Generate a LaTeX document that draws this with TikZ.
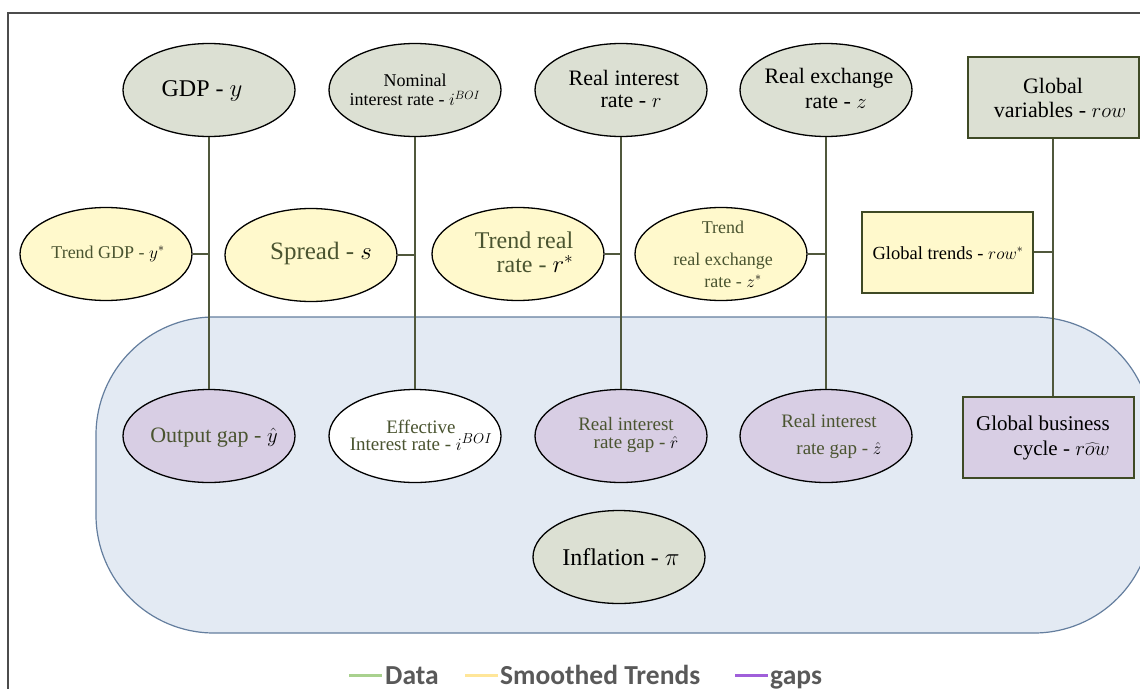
\documentclass[tikz,border=0pt]{standalone}
\usepackage{fontspec}
\setmainfont{Liberation Serif}
\newfontfamily\legfont{Carlito}
\usetikzlibrary{shapes.geometric}
\definecolor{datafill}{RGB}{220,224,211}
\definecolor{trendfill}{RGB}{255,249,204}
\definecolor{gapfill}{RGB}{216,206,228}
\definecolor{regionfill}{RGB}{227,234,243}
\definecolor{regiondraw}{RGB}{100,126,158}
\definecolor{olive}{RGB}{74,84,48}
\definecolor{boxdraw}{RGB}{63,74,37}
\definecolor{connc}{RGB}{80,88,60}
\definecolor{legtext}{RGB}{89,89,89}
\definecolor{leggreen}{RGB}{169,209,142}
\definecolor{legyellow}{RGB}{255,230,153}
\definecolor{legpurple}{RGB}{160,95,218}
\newcommand\fsz[2]{\fontsize{#1}{#2}\selectfont}
\tikzset{
  ell/.style={ellipse, draw=black, line width=1.3pt, minimum width=172pt, minimum height=93pt, inner sep=0pt},
  bx/.style={rectangle, draw=boxdraw, line width=2pt, minimum width=171pt, minimum height=81pt, inner sep=0pt},
  datan/.style={fill=datafill},
  trendn/.style={fill=trendfill},
  gapn/.style={fill=gapfill},
  txt/.style={inner sep=0pt, align=center},
  conn/.style={draw=connc, line width=1.3pt},
  legline/.style={line width=3pt},
  legtxt/.style={font=\legfont\bfseries\fsz{27.5}{29}, text=legtext, anchor=base west, inner sep=0pt}
}
\begin{document}
\begin{tikzpicture}[x=1pt,y=-1pt]
\useasboundingbox (0,0) rectangle (1140,688);
\clip (0,0) rectangle (1140,688);
% outer frame
\draw[draw=black!70, line width=1.5pt] (8,700) -- (8,13) -- (1160,13);
% region
\draw[fill=regionfill, draw=regiondraw, line width=1.2pt, rounded corners=118pt] (96,317) rectangle (1152,633);

% top row (data)
\node[ell, datan] (gdp) at (209,90) {};
\node[txt, anchor=base, font=\fsz{24}{26}] (gdpT) at (202,96) {GDP - $y$};
\node[ell, datan] (nom) at (415,90) {};
\node[txt, font=\fsz{18}{19}] (nomT) at (415,90) {Nominal\\interest rate - $i^{BOI}$};
\node[ell, datan] (rir) at (621,90) {};
\node[txt, font=\fsz{22}{22}] (rirT) at (624,89) {Real interest\\\hspace*{14pt}rate - $r$};
\node[ell, datan] (rex) at (826,90) {};
\node[txt, font=\fsz{22}{25}] (rexT) at (829,88) {Real exchange\\\hspace*{14pt}rate - $z$};
\node[bx, datan] (glob) at (1053,97) {};
\node[txt, font=\fsz{22}{24}] (globT) at (1060,98) {\hspace*{-14pt}Global\\variables - $row$};

% middle row (trends)
\node[ell, trendn] (tgdp) at (106,254) {};
\node[txt, anchor=base, text=olive, font=\fsz{18}{20}] (tgdpT) at (108,258) {Trend GDP - {\color{black}$y^{*}$}};
\node[ell, trendn] (spread) at (311,255) {};
\node[txt, anchor=base, text=olive, font=\fsz{25}{27}] (spreadT) at (321,259) {Spread - {\color{black}$s$}};
\node[ell, trendn] (trr) at (518,254) {};
\node[txt, text=olive, font=\fsz{24}{24}] (trrT) at (524,252) {Trend real\\\hspace*{22pt}rate - {\color{black}$r^{*}$}};
\node[ell, trendn] (trex) at (721,254) {};
\node[txt, text=olive, font=\fsz{18}{22}] (trexT) at (723,254) {Trend\\[10pt]real exchange\\\hspace*{20pt}rate - {\color{black}$z^{*}$}};
\node[bx, trendn] (gtr) at (947,252) {};
\node[txt, anchor=base, font=\fsz{18.5}{20}] (gtrT) at (948,259) {Global trends - $row^{*}$};

% bottom row (gaps)
\node[ell, gapn] (ogap) at (209,436) {};
\node[txt, anchor=base, text=olive, font=\fsz{22}{24}] (ogapT) at (214,442) {Output gap - {\color{black}$\hat{y}$}};
\node[ell, fill=white] (eff) at (415,436) {};
\node[txt, text=olive, font=\fsz{19}{17}] (effT) at (421,435) {Effective\\Interest rate - {\color{black}$i^{BOI}$}};
\node[ell, gapn] (rgap) at (621,436) {};
\node[txt, text=olive, font=\fsz{19}{18}] (rgapT) at (626,435) {Real interest\\\hspace*{20pt}rate gap - {\color{black}$\hat{r}$}};
\node[ell, gapn] (zgap) at (826,436) {};
\node[txt, text=olive, font=\fsz{19}{27}] (zgapT) at (829,436) {Real interest\\\hspace*{20pt}rate gap - {\color{black}$\hat{z}$}};
\node[bx, gapn] (gbc) at (1048,437) {};
\node[txt, align=right, font=\fsz{21}{25}] (gbcT) at (1043,438) {Global business\\cycle - $\widehat{row}$};

% inflation
\node[ell, datan] (infl) at (619,557) {};
\node[txt, anchor=base, font=\fsz{24}{26}] (inflT) at (621,565) {Inflation - $\pi$};

% vertical connectors
\draw[conn] (gdp.south) -- (ogap.north);
\draw[conn] (nom.south) -- (eff.north);
\draw[conn] (rir.south) -- (rgap.north);
\draw[conn] (rex.south) -- (zgap.north);
\draw[conn] (glob.south) -- (glob.south |- gbc.north);
% horizontal connectors
\draw[conn] (tgdp.east) -- (tgdp.east -| gdp.south);
\draw[conn] (spread.east) -- (spread.east -| nom.south);
\draw[conn] (trr.east) -- (trr.east -| rir.south);
\draw[conn] (trex.east) -- (trex.east -| rex.south);
\draw[conn] (gtr.east) -- (gtr.east -| glob.south);

% legend
\node[legtxt] (ldata) at (385,684) {Data};
\node[legtxt] (ltrend) at (500,684) {Smoothed Trends};
\node[legtxt] (lgap) at (770,684) {gaps};
\coordinate (ld1) at (349,675); \coordinate (ld2) at (382,675);
\coordinate (lt1) at (465,675); \coordinate (lt2) at (498,675);
\coordinate (lg1) at (735,675); \coordinate (lg2) at (768,675);
\draw[legline, leggreen] (ld1) -- (ld2);
\draw[legline, legyellow] (lt1) -- (lt2);
\draw[legline, legpurple] (lg1) -- (lg2);
\end{tikzpicture}
\end{document}
